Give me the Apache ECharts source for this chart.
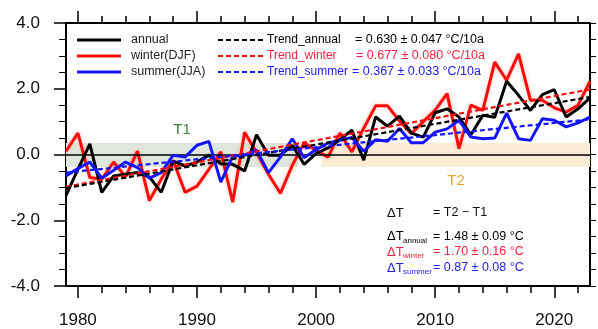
<!DOCTYPE html>
<html><head><meta charset="utf-8">
<script src="https://cdn.jsdelivr.net/npm/echarts@6/dist/echarts.min.js"></script>
<style>html,body{margin:0;padding:0;background:#fff}#c{width:598px;height:329px}</style>
</head><body><div id="c"></div>
<script>
const years = [1979,1980,1981,1982,1983,1984,1985,1986,1987,1988,1989,1990,1991,1992,1993,1994,1995,1996,1997,1998,1999,2000,2001,2002,2003,2004,2005,2006,2007,2008,2009,2010,2011,2012,2013,2014,2015,2016,2017,2018,2019,2020,2021,2022,2023];
const annual = [-1.24,-0.45,0.32,-1.15,-0.65,-0.6,-0.55,-0.68,-1.15,-0.2,-0.35,-0.23,-0.02,-0.28,-0.3,-0.5,0.6,-0.02,-0.02,0.28,-0.3,0.03,0.2,0.45,0.74,-0.17,1.14,0.86,1.17,0.65,0.53,1.27,1.39,1.14,0.6,1.19,1.13,2.23,1.8,1.34,1.82,1.97,1.14,1.39,1.72];
const winter = [0.1,0.65,-0.7,-0.75,-0.23,-0.68,0.1,-1.4,-0.75,-0.18,-1.15,-0.96,-0.45,0.08,-1.45,0.68,0.05,-0.6,-1.18,-0.33,0.36,0.12,-0.08,0.65,0.08,0.8,1.48,1.48,1.02,0.63,1.0,1.35,1.85,0.18,1.5,1.34,2.81,2.26,3.06,1.65,1.65,1.42,1.29,1.5,2.23];
const summer = [-0.65,-0.43,-0.23,-0.72,-0.48,-0.23,-0.4,-0.72,-0.55,-0.02,-0.08,0.28,0.4,-0.84,-0.05,-0.02,0.13,-0.55,-0.08,0.48,-0.1,0.15,0.35,0.43,0.52,0.1,0.45,0.4,0.79,0.36,0.36,0.68,0.78,1.04,0.53,0.48,0.5,1.26,0.48,0.43,1.09,1.04,0.84,0.96,1.14];
const trendYears = [1979, 2023];
const trendAnnual = [-1.02, 1.75];
const trendWinter = [-0.98, 1.98];
const trendSummer = [-0.55, 1.07];
const t1Period = [1979, 1998.5];
const t2Period = [2000.5, 2023];
const bandRange = [-0.38, 0.35];
const xMajorTicks = [1980,1990,2000,2010,2020];
const xMinorTicks = [1980,1982,1984,1986,1988,1990,1992,1994,1996,1998,2000,2002,2004,2006,2008,2010,2012,2014,2016,2018,2020,2022];
const legendNames = ['annual','winter(DJF)','summer(JJA)'];
const trendNames = ['Trend_annual','Trend_winter','Trend_summer'];
const trendTexts = ['= 0.630 \u00b1 0.047 \u00b0C/10a','= 0.677 \u00b1 0.080 \u00b0C/10a','= 0.367 \u00b1 0.033 \u00b0C/10a'];
const deltaSubs = ['annual','winter','summer'];
const deltaTexts = ['= 1.48 \u00b1 0.09 \u00b0C','= 1.70 \u00b1 0.16 \u00b0C','= 0.87 \u00b1 0.08 \u00b0C'];

const FONT = '"Liberation Sans", Arial, Helvetica, sans-serif';
const BLACK = '#000000', RED = '#ff0a0a', BLUE = '#1414ff';
const RED_T = '#ff1f3c', BLUE_T = '#2020f0';
const pair = (xs, ys) => xs.map((x, i) => [x, ys[i]]);

const chart = echarts.init(document.getElementById('c'), null, {renderer: 'canvas'});

function xAx(pos, ticks, len, showLine, showLabel) {
  return {
    type: 'value', position: pos, min: 1979, max: 2023,
    axisLine: {show: showLine, onZero: false, lineStyle: {color: '#000', width: 2}},
    axisTick: {show: true, customValues: ticks, length: len, inside: false, lineStyle: {color: '#000', width: 1.5}},
    axisLabel: {show: showLabel, customValues: ticks, fontSize: 17, color: '#111', fontFamily: FONT, margin: 26, formatter: v => String(v)},
    splitLine: {show: false}
  };
}

const option = {
  animation: false,
  backgroundColor: '#fff',
  grid: {left: 66, right: 8, top: 23, bottom: 43, containLabel: false},
  xAxis: [
    xAx('bottom', xMajorTicks, 12, true, true),
    xAx('bottom', xMinorTicks, 7, false, false),
    xAx('top', xMajorTicks, 12, true, false),
    xAx('top', xMinorTicks, 7, false, false)
  ],
  yAxis: [
    {
      type: 'value', position: 'left', min: -4, max: 4, interval: 2,
      axisLine: {show: true, onZero: false, lineStyle: {color: '#000', width: 2}},
      axisTick: {show: true, length: 12, lineStyle: {color: '#000', width: 1.5}},
      minorTick: {show: true, splitNumber: 4, length: 7, lineStyle: {color: '#000', width: 1}},
      axisLabel: {fontSize: 17, color: '#111', fontFamily: FONT, margin: 26, formatter: v => v.toFixed(1)},
      splitLine: {show: false}
    },
    {
      type: 'value', position: 'right', min: -4, max: 4, interval: 2,
      axisLine: {show: true, onZero: false, lineStyle: {color: '#000', width: 2}},
      axisTick: {show: true, length: 6, lineStyle: {color: '#000', width: 1}},
      minorTick: {show: true, splitNumber: 4, length: 6, lineStyle: {color: '#000', width: 1}},
      axisLabel: {show: false},
      splitLine: {show: false}
    }
  ],
  series: [
    {
      name: 'periods', type: 'line', data: [], z: 1, silent: true,
      markArea: {
        silent: true,
        data: [
          [{xAxis: t1Period[0], yAxis: bandRange[0], itemStyle: {color: '#dfe7dc', opacity: 1},
            label: {show: true, position: 'top', distance: 6, formatter: 'T1', color: '#3b7b3b', fontSize: 15, fontFamily: FONT}},
           {xAxis: t1Period[1], yAxis: bandRange[1]}],
          [{xAxis: t2Period[0], yAxis: bandRange[0], itemStyle: {color: '#fcecd6', opacity: 1},
            label: {show: true, position: 'bottom', distance: 6, formatter: 'T2', color: '#e6a62e', fontSize: 15, fontFamily: FONT}},
           {xAxis: t2Period[1], yAxis: bandRange[1]}]
        ]
      },
      markLine: {
        silent: true, symbol: 'none', label: {show: false},
        lineStyle: {color: '#000', width: 1.5, type: 'solid'},
        data: [{yAxis: 0}]
      }
    },
    {name: 'winter(DJF)', type: 'line', z: 3, data: pair(years, winter), symbol: 'none',
      lineStyle: {color: RED, width: 3, shadowColor: 'rgba(255,120,90,0.45)', shadowBlur: 4}},
    {name: 'annual', type: 'line', z: 4, data: pair(years, annual), symbol: 'none',
      lineStyle: {color: BLACK, width: 3}},
    {name: 'summer(JJA)', type: 'line', z: 5, data: pair(years, summer), symbol: 'none',
      lineStyle: {color: BLUE, width: 3}},
    {name: 'Trend_winter', type: 'line', z: 6, data: pair(trendYears, trendWinter), symbol: 'none',
      lineStyle: {color: RED, width: 2.2, type: [5, 3]}},
    {name: 'Trend_annual', type: 'line', z: 6, data: pair(trendYears, trendAnnual), symbol: 'none',
      lineStyle: {color: BLACK, width: 2.2, type: [5, 3]}},
    {name: 'Trend_summer', type: 'line', z: 6, data: pair(trendYears, trendSummer), symbol: 'none',
      lineStyle: {color: BLUE, width: 2.2, type: [5, 3]}}
  ],
  graphic: []
};

const lineCols = [BLACK, RED, BLUE];
const textCols = [BLACK, RED_T, BLUE_T];
const rowsY = [40, 56, 72];
const eqX = [355, 356, 352];
const g = [];
for (let i = 0; i < 3; i++) {
  g.push({type: 'line', z: 100, shape: {x1: 77, y1: rowsY[i], x2: 121, y2: rowsY[i]}, style: {stroke: lineCols[i], lineWidth: 3}});
  g.push({type: 'text', z: 100, x: 131, y: rowsY[i], style: {text: legendNames[i], fill: '#222', font: '12.5px ' + FONT, verticalAlign: 'middle', textVerticalAlign: 'middle'}});
  g.push({type: 'line', z: 100, shape: {x1: 218, y1: rowsY[i], x2: 263, y2: rowsY[i]}, style: {stroke: lineCols[i], lineWidth: 2.2, lineDash: [5, 3]}});
  g.push({type: 'text', z: 100, x: 267, y: rowsY[i], style: {text: trendNames[i], fill: textCols[i], font: '12px ' + FONT, verticalAlign: 'middle', textVerticalAlign: 'middle'}});
  g.push({type: 'text', z: 100, x: eqX[i], y: rowsY[i], style: {text: trendTexts[i], fill: textCols[i], font: '12.5px ' + FONT, verticalAlign: 'middle', textVerticalAlign: 'middle'}});
}
g.push({type: 'text', z: 100, x: 387, y: 213, style: {text: '\u0394T', fill: '#111', font: '13px ' + FONT, verticalAlign: 'middle', textVerticalAlign: 'middle'}});
g.push({type: 'text', z: 100, x: 433, y: 213, style: {text: '= T2 \u2212 T1', fill: '#111', font: '12.5px ' + FONT, verticalAlign: 'middle', textVerticalAlign: 'middle'}});
const dY = [236.5, 252, 268];
for (let i = 0; i < 3; i++) {
  g.push({type: 'text', z: 100, x: 387, y: dY[i], style: {text: '\u0394T', fill: textCols[i], font: '13px ' + FONT, verticalAlign: 'middle', textVerticalAlign: 'middle'}});
  g.push({type: 'text', z: 100, x: 403, y: dY[i] + 4, style: {text: deltaSubs[i], fill: textCols[i], font: '8px ' + FONT, verticalAlign: 'middle', textVerticalAlign: 'middle'}});
  g.push({type: 'text', z: 100, x: 433, y: dY[i], style: {text: deltaTexts[i], fill: textCols[i], font: '12.5px ' + FONT, verticalAlign: 'middle', textVerticalAlign: 'middle'}});
}
option.graphic = g;
chart.setOption(option);
</script>
</body></html>
